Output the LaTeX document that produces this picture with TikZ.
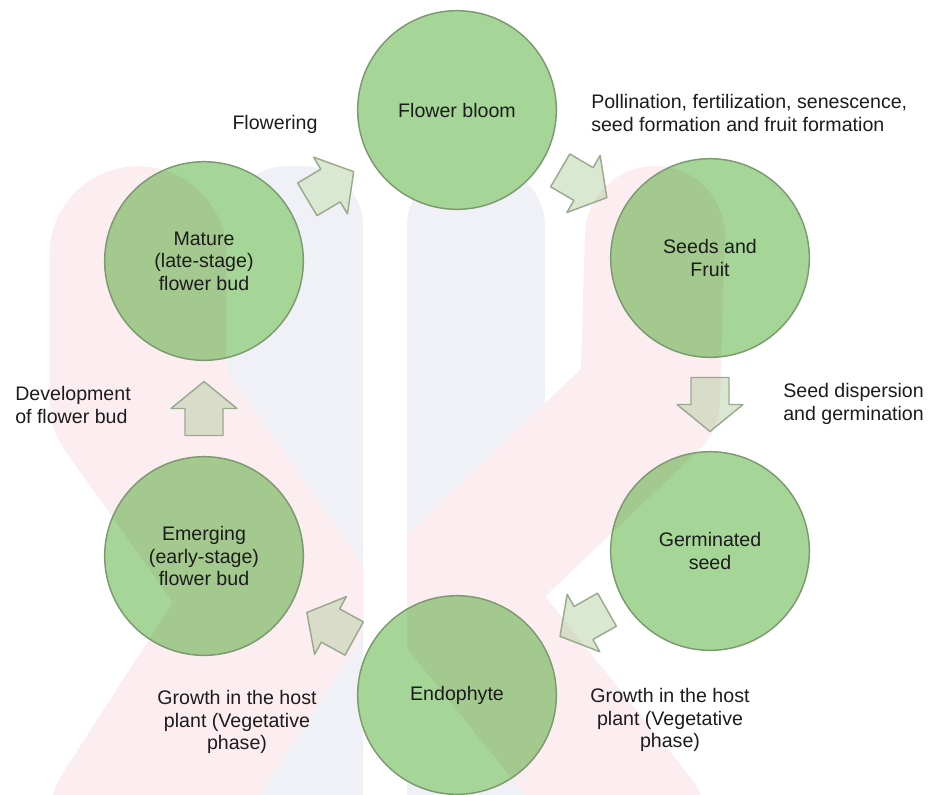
\documentclass[tikz,border=0pt]{standalone}
\usepackage{fontspec}
\setmainfont{Liberation Sans}
\usetikzlibrary{calc}
\definecolor{cgreen}{HTML}{A6D697}
\definecolor{ctint}{HTML}{A4C98E}
\definecolor{cline}{HTML}{7C9A70}
\definecolor{afill}{HTML}{DAE8D1}
\definecolor{atint}{HTML}{DADCCA}
\definecolor{aline}{HTML}{9AAA90}
\definecolor{txt}{HTML}{1C1C1C}
\definecolor{wmpinkc}{HTML}{FCEDF0}
\definecolor{wmgreyc}{HTML}{F0F1F6}
\newcommand\lblfont{\fontsize{14.7}{16.8}\selectfont}
\newcommand\wmpinkshapes[1]{%
  \begin{scope}
    \clip (-50,50) rectangle (363,-850);
    \draw[#1, line width=133pt, line cap=round, line join=round]
      (138,-255) -- (138,-400) -- (280,-600) -- (138,-820);
  \end{scope}
  \begin{scope}
    \clip (407,50) rectangle (1000,-850);
    \draw[#1, line width=105pt, line cap=round, line join=round]
      (655,-236) -- (650,-400) -- (450,-590) -- (635,-820);
  \end{scope}}
\newcommand\wmgreyshapes[1]{%
  \fill[#1, rounded corners=45pt] (227,-900) -- (227,-166) -- (363,-166) -- (363,-900) -- cycle;
  \fill[#1, rounded corners=45pt] (407,-900) -- (407,-166) -- (545,-166) -- (545,-900) -- cycle;}
\tikzset{
  disc/.style={circle, fill=cgreen, minimum size=149pt, inner sep=0pt},
  ring/.style={circle, draw=cline, line width=1.1pt, minimum size=149pt, inner sep=0pt,
    align=center, text=txt, font=\lblfont},
  note/.style={inner sep=0pt, text=txt, font=\lblfont},
  barrow/.pic={
    \fill[afill] (-27,-19) -- (0,-19) -- (0,-33) -- (27,0) -- (0,33) -- (0,19) -- (-27,19) -- cycle;
    \begin{scope}
      \clip (-27,-19) -- (0,-19) -- (0,-33) -- (27,0) -- (0,33) -- (0,19) -- (-27,19) -- cycle;
      \begin{scope}[reset cm]\wmpinkshapes{atint}\end{scope}
    \end{scope}
    \draw[aline, line width=1.1pt, line join=round]
      (-27,-19) -- (0,-19) -- (0,-33) -- (27,0) -- (0,33) -- (0,19) -- (-27,19) -- cycle;
  }
}
\begin{document}
\begin{tikzpicture}[x=0.75pt,y=0.75pt]
\useasboundingbox (0,0) rectangle (934,-794);
\clip (0,0) rectangle (934,-794);
\fill[white] (0,0) rectangle (934,-794);

% faint watermark in the background
\wmgreyshapes{wmgreyc}
\wmpinkshapes{wmpinkc}

% stage discs
\node[disc] (bloom)  at (457,-110) {};
\node[disc] (seeds)  at (710,-258) {};
\node[disc] (germ)   at (710,-551) {};
\node[disc] (endo)   at (457,-695) {};
\node[disc] (emerg)  at (204,-556) {};
\node[disc] (mature) at (204,-261) {};
\foreach \n in {bloom,seeds,germ,endo,emerg,mature}{
  \begin{scope}
    \clip (\n.center) circle[radius=74.5pt];
    \wmpinkshapes{ctint}
  \end{scope}
}
% stage outlines and texts
\node[ring] (bloomL)  at (bloom)  {Flower bloom};
\node[ring] (seedsL)  at (seeds)  {Seeds and\\Fruit};
\node[ring] (germL)   at (germ)   {Germinated\\seed};
\node[ring] (endoL)   at (endo)   {Endophyte};
\node[ring] (emergL)  at (emerg)  {Emerging\\(early-stage)\\flower bud};
\node[ring] (matureL) at (mature) {Mature\\(late-stage)\\flower bud};

% block arrows between stages
\pic[rotate=30.8]  at ($(mature)!0.5!(bloom)$) {barrow};
\pic[rotate=-30.3] at ($(bloom)!0.5!(seeds)$) {barrow};
\pic[rotate=-90]   at ($(seeds)!0.5!(germ)$) {barrow};
\pic[rotate=209.6] at ($(germ)!0.5!(endo)$) {barrow};
\pic[rotate=151.2] at ($(endo)!0.5!(emerg)$) {barrow};
\pic[rotate=90]    at ($(emerg)!0.5!(mature)$) {barrow};

% labels
\node[note] (flowering) at (275,-124) {Flowering};
\node[note, anchor=west, align=left] (pollin) at (591,-113)
  {Pollination, fertilization, senescence,\\seed formation and fruit formation};
\node[note, anchor=west, align=left] (disp) at (783,-404) {Seed dispersion\\and germination};
\node[note, anchor=west, align=left] (devel) at (15,-405) {Development\\of flower bud};
\node[note, align=center] (growthL) at (237,-722) {Growth in the host\\plant (Vegetative\\phase)};
\node[note, align=center] (growthR) at (670,-720) {Growth in the host\\plant (Vegetative\\phase)};
\end{tikzpicture}
\end{document}
